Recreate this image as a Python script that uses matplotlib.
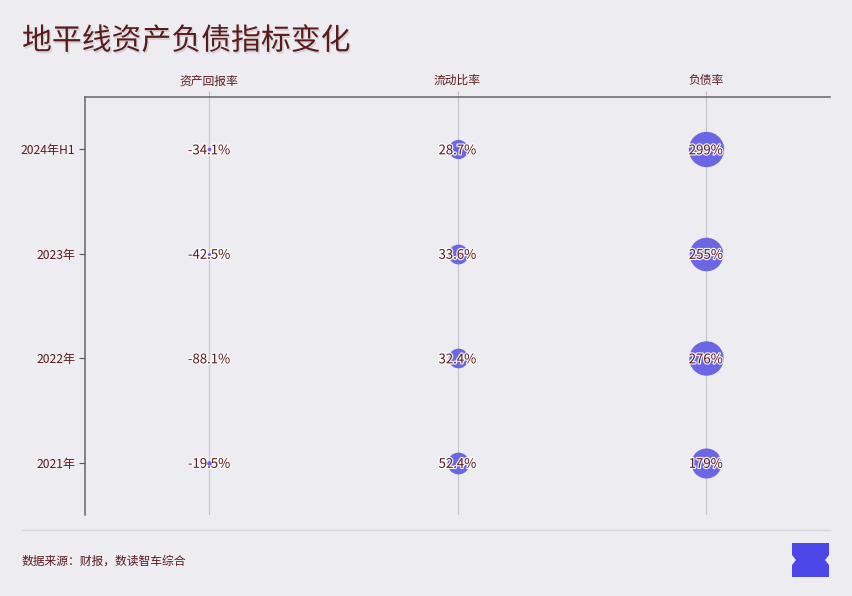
import numpy as np
import matplotlib
matplotlib.use("Agg")
import matplotlib.pyplot as plt
import matplotlib.patheffects as pe
from matplotlib.patches import Polygon

plt.rcParams['font.family'] = ['Noto Sans CJK SC', 'DejaVu Sans']

# data
periods = ["2021年", "2022年", "2023年", "2024年H1"]
metrics = ["资产回报率", "流动比率", "负债率"]
roa = [-19.5, -88.1, -42.5, -34.1]
current_ratio = [52.4, 32.4, 33.6, 28.7]
debt_ratio = [179, 276, 255, 299]

title = "地平线资产负债指标变化"
source = "数据来源：财报，数读智车综合"

bg = "#EDECF1"
text_col = "#5A1B1B"
bubble_col = "#6B66E3"


def diameter(v):
    # bubble diameter in pixels
    if v > 0:
        return 12 + 1.35 * np.sqrt(v)
    return max(0.0, 6 + 0.07 * v)


fig = plt.figure(figsize=(8.52, 5.96), dpi=100, facecolor=bg)
ax = fig.add_axes([85 / 852, 1 - 515 / 596, 745 / 852, 418 / 596])
ax.set_facecolor(bg)

halo = [pe.withStroke(linewidth=1.8, foreground="white", alpha=0.9)]
px2pt = 72 / 100

for col, series in enumerate([roa, current_ratio, debt_ratio]):
    for row, v in enumerate(series):
        d = diameter(v) * px2pt
        if d > 0:
            ax.scatter(col, row, s=d ** 2, color=bubble_col,
                       zorder=5 if v < 0 else 3, linewidths=0)
        if col == 2:
            lab = f"{v:.0f}%"
        else:
            lab = f"{v:.1f}%"
        ax.text(col, row - 0.015, lab, ha="center", va="center", fontsize=9.5,
                color=text_col, zorder=4, path_effects=halo)

ax.set_xlim(-0.5, 2.5)
ax.set_ylim(-0.5, 3.5)
ax.set_xticks(range(len(metrics)))
ax.set_xticklabels(metrics, fontsize=8.5, color=text_col)
ax.xaxis.tick_top()
ax.tick_params(axis="x", length=4, color="#BBBBBB", pad=3)
ax.set_yticks(range(len(periods)))
ax.set_yticklabels(periods, fontsize=8.7, color=text_col)
ax.tick_params(axis="y", length=4, color="#555555", pad=3)
ax.grid(axis="x", color="#C8C8CC", linewidth=0.9, zorder=0)
ax.set_axisbelow(True)

for s in ["bottom", "right"]:
    ax.spines[s].set_visible(False)
for s in ["top", "left"]:
    ax.spines[s].set_color("#666666")
    ax.spines[s].set_linewidth(1.1)

fig.text(22 / 852, 1 - 41 / 596, title, fontsize=21.5, color=text_col,
         va="center", ha="left",
         path_effects=[pe.SimplePatchShadow(offset=(1, -1.5), shadow_rgbFace="#BBBBBB", alpha=0.5), pe.Normal()])

# footer
fig.add_artist(plt.Line2D([22 / 852, 830 / 852], [1 - 530 / 596, 1 - 530 / 596],
                          color="#D6D5DA", linewidth=1))
fig.text(22 / 852, 1 - 561 / 596, source, fontsize=8.5, color=text_col,
         va="center", ha="left")

# logo
lx0, lx1, ly0, ly1 = 792, 829, 543, 577
notch = 4
pts = [(lx0, ly0), (lx1, ly0), (lx1, ly0 + 12), (lx1 - notch, (ly0 + ly1) / 2),
       (lx1, ly1 - 12), (lx1, ly1), (lx0, ly1), (lx0, ly1 - 12),
       (lx0 + notch, (ly0 + ly1) / 2), (lx0, ly0 + 12)]
pts = [(x / 852, 1 - y / 596) for x, y in pts]
fig.add_artist(Polygon(pts, closed=True, transform=fig.transFigure,
                       facecolor="#4B46E8", edgecolor="none"))

fig.savefig("out.png", dpi=100, facecolor=bg)
